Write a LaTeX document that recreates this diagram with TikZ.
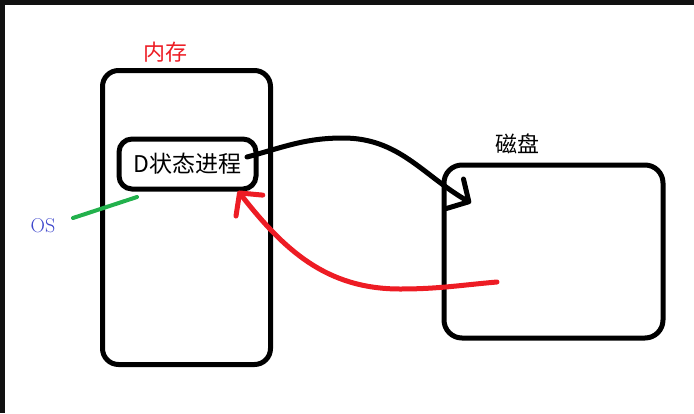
\documentclass[tikz,border=0pt]{standalone}
\usepackage{fontspec}
\newfontfamily\cjk{Noto Sans CJK SC}
\usetikzlibrary{arrows.meta}
\definecolor{paintred}{HTML}{ED1C24}
\definecolor{paintgreen}{HTML}{22B14C}
\definecolor{paintblue}{HTML}{3F48CC}
\definecolor{frameblack}{HTML}{111111}
\tikzset{box/.style={draw, line width=5pt, rounded corners=#1, inner sep=0pt},
 box/.default=15pt,
 flow/.style={line width=5pt, line cap=round,
   -{Straight Barb[round, length=16pt, width=34pt]}},
 cjklabel/.style={inner sep=0pt, font=\cjk\fontsize{22pt}{22pt}\selectfont},
 }

\begin{document}
\begin{tikzpicture}[x=1pt, y=1pt]
        \useasboundingbox (0,0) rectangle (694,-413);
        \fill[frameblack] (0,0) rectangle (694,-5);
        \fill[frameblack] (0,0) rectangle (5,-413);

        \node[box=16pt, minimum width=168pt, minimum height=294pt] (mem) at (186.5,-217.5) {};
        \node[cjklabel, text=paintred] (memlabel) at (165,-52) {内存};
        \node[box=13pt, minimum width=137pt, minimum height=50pt,
              font=\cjk\fontsize{23pt}{23pt}\selectfont] (proc) at (187.5,-164) {D状态进程};

        \node[box=18pt, minimum width=219pt, minimum height=173pt] (disk) at (553.5,-251.5) {};
        \node[cjklabel] (disklabel) at (517,-144) {磁盘};

        \node[inner sep=0pt, text=paintblue, font=\fontsize{20pt}{20pt}\selectfont] (oslabel) at (43,-226) {OS};

        \coordinate (procout) at (247,-157);
        \coordinate (peak) at (343,-138);
        \coordinate (diskin) at (471,-203);
        \coordinate (diskout) at (497,-282);
        \coordinate (dip) at (400,-289);
        \coordinate (procin) at (238,-191);
        \coordinate (osend) at (73,-218);
        \coordinate (memedge) at (137,-197);

        \draw[flow] (procout) to[out=15, in=180] (peak) to[out=0, in=150] (diskin);
        \draw[flow, paintred] (diskout) to[out=185, in=0] (dip) to[out=180, in=-52] (procin);
        \draw[paintgreen, line width=4pt, line cap=round] (osend) -- (memedge);
    \end{tikzpicture}
\end{document}
